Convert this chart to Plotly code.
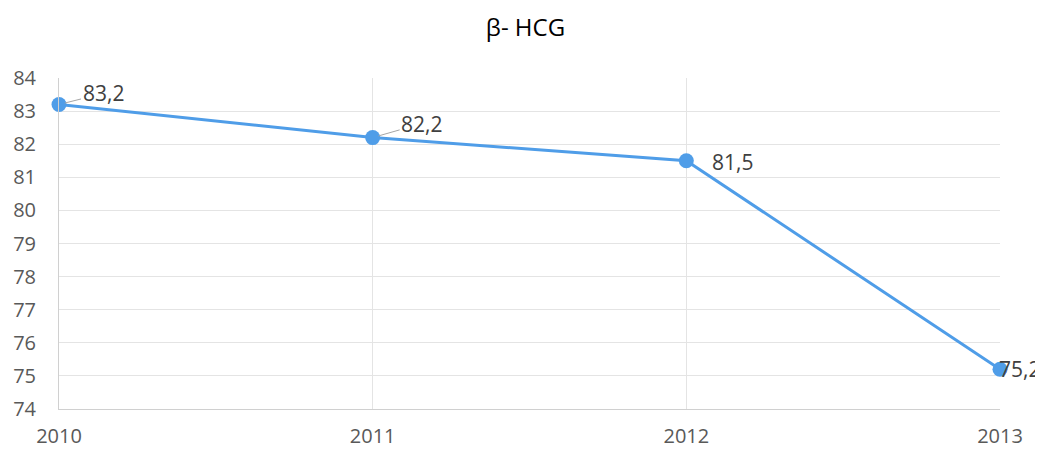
import plotly.graph_objects as go

years = [2010, 2011, 2012, 2013]
values = [83.2, 82.2, 81.5, 75.2]
labels = [f"{v:.1f}".replace(".", ",") for v in values]
y_ticks = list(range(74, 85))

line_color = "#4F9DE8"
grid_color = "#E4E4E4"

fig = go.Figure()
fig.add_trace(go.Scatter(
    x=years, y=values, mode="lines+markers",
    line=dict(color=line_color, width=3),
    marker=dict(color=line_color, size=15),
    cliponaxis=False, hoverinfo="skip",
))

label_font = dict(family="Open Sans", size=21, color="#404040")
# label offsets (pixels) relative to each point
offsets = [(44, -11, True), (49, -14, True), (46, -1, False), (-3, 0, False)]
for i, (x, y, t) in enumerate(zip(years, values, labels)):
    dx, dy, arrow = offsets[i]
    if arrow:
        fig.add_annotation(x=x, y=y, text=t, showarrow=True, ax=dx, ay=dy,
                           arrowhead=0, arrowwidth=1, arrowcolor="#A6A6A6",
                           standoff=6, font=label_font)
    elif i == len(years) - 1:
        fig.add_annotation(x=x, y=y, text=t, showarrow=False, xanchor="left",
                           xshift=dx, yshift=dy, font=label_font)
    else:
        fig.add_annotation(x=x, y=y, text=t, showarrow=False, xanchor="center",
                           xshift=dx, yshift=dy, font=label_font)

# the page adds an 8px body margin, so the figure is sized to fit the window
fig.update_layout(
    width=1035, height=442,
    margin=dict(l=51, r=43, t=70, b=41, autoexpand=False),
    paper_bgcolor="white", plot_bgcolor="white",
    showlegend=False,
    title=dict(text="β- HCG", x=0.5, xanchor="center", y=0.955, yanchor="middle",
               font=dict(family="Open Sans", size=24, color="#000000")),
    font=dict(family="Open Sans", color="#595959"),
)
fig.update_xaxes(
    range=[2010, 2013], tickvals=years, ticktext=[str(y) for y in years],
    showgrid=True, gridcolor=grid_color, gridwidth=1,
    showline=True, linecolor="#D0D0D0", linewidth=1, mirror=False,
    zeroline=False, ticks="", ticklabelstandoff=9, automargin=False,
    tickfont=dict(family="Open Sans", size=20, color="#595959"),
)
fig.update_yaxes(
    range=[74, 84], tickvals=y_ticks,
    showgrid=True, gridcolor=grid_color, gridwidth=1,
    showline=True, linecolor="#D0D0D0", linewidth=1,
    zeroline=False, ticks="", ticklabelstandoff=18, automargin=False,
    tickfont=dict(family="Open Sans", size=20, color="#595959"),
)

fig.write_html("out.html")
